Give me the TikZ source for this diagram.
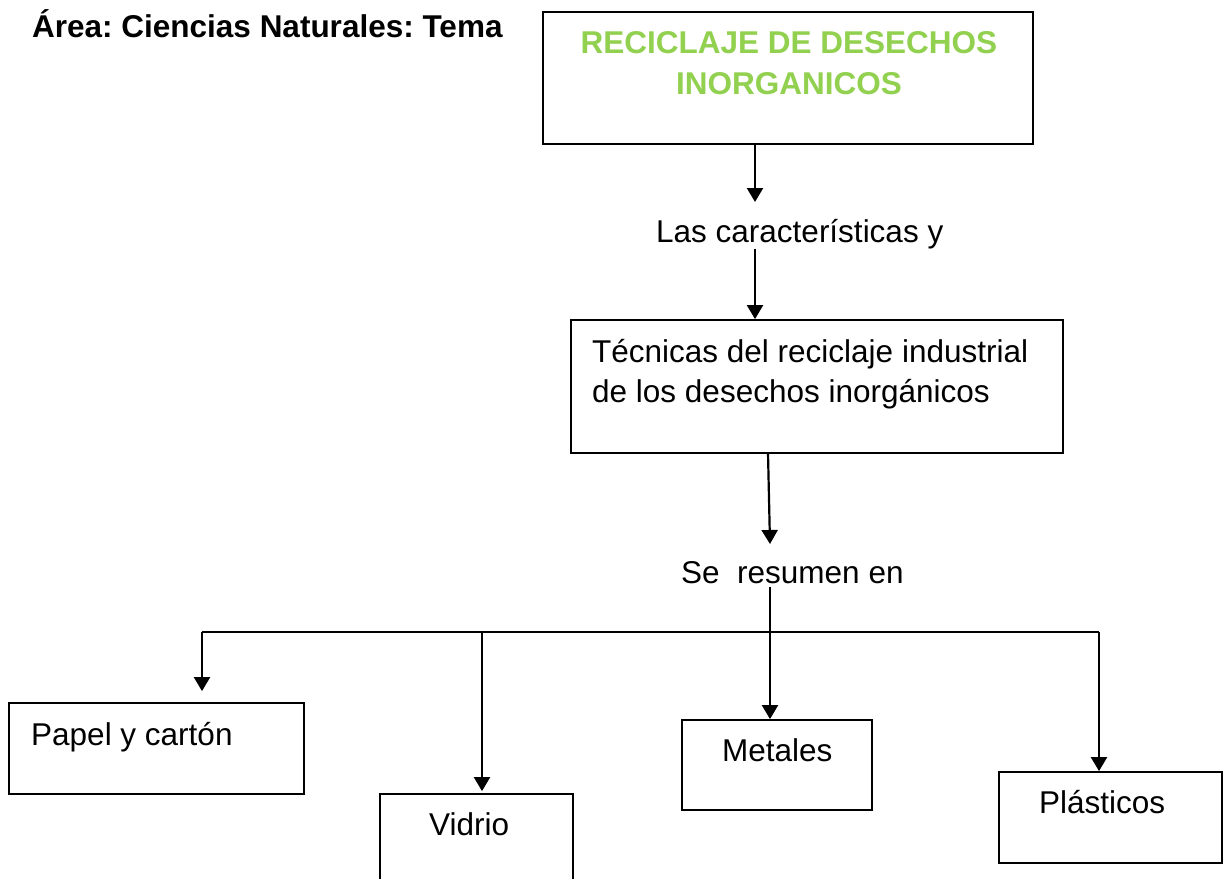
\documentclass[tikz,border=0pt]{standalone}
\usepackage{fontspec}
\setmainfont{Liberation Sans}
\usetikzlibrary{arrows.meta}
\definecolor{titlegreen}{RGB}{146,208,80}
\frenchspacing
\tikzset{
  box/.style={draw=black, line width=1.8pt, rectangle, inner sep=0pt},
  txt/.style={anchor=base west, inner sep=0pt, font=\fontsize{31.5}{38}\selectfont},
  gtxt/.style={anchor=base, inner sep=0pt, text=titlegreen, font=\fontsize{31.5}{38}\selectfont\bfseries},
  arr/.style={draw=black, line width=2.2pt, -{Triangle[length=14pt,width=16pt]}},
  plain/.style={draw=black, line width=1.8pt}
}
\begin{document}
\begin{tikzpicture}[x=1pt,y=-1pt]
\useasboundingbox (0,0) rectangle (1223,878);
\fill[white] (0,0) rectangle (1223,878);

% title
\node[txt, font=\fontsize{31.5}{38}\selectfont\bfseries] (title) at (32,37) {Área: Ciencias Naturales: Tema};

% top box
\node[box, minimum width=490pt, minimum height=132pt] (top) at (788,78) {};
\node[gtxt] (g1) at (789,53) {RECICLAJE DE DESECHOS};
\node[gtxt] (g2) at (789,94) {INORGANICOS};

% first label
\node[txt] (lab1) at (656,242) {Las características y};
\coordinate (t1) at (755,202);
\draw[arr] (top.south -| t1) -- (t1);

% technique box
\node[box, minimum width=492pt, minimum height=133pt] (tech) at (817,386.5) {};
\node[txt] (tl1) at (592,362) {Técnicas del reciclaje industrial};
\node[txt] (tl2) at (592,402) {de los desechos inorgánicos};
\draw[arr] (lab1.south -| t1) -- (tech.north -| t1);

% second label
\node[txt] (lab2) at (681,583) {Se~ resumen en};
\coordinate (t2a) at (768,453);
\coordinate (t2) at (770,544);
\draw[arr] (t2a) -- (t2);

% leaf boxes
\node[box, minimum width=295pt, minimum height=91pt] (papel) at (156.5,748.5) {};
\node[txt] (papelt) at (31,745) {Papel y cartón};
\node[box, minimum width=193pt, minimum height=100pt] (vidrio) at (476.5,844) {};
\node[txt] (vidriot) at (429,835) {Vidrio};
\node[box, minimum width=190pt, minimum height=90pt] (metales) at (777,765) {};
\node[txt] (metalest) at (722,761) {Metales};
\node[box, minimum width=223pt, minimum height=91pt] (plast) at (1110.5,817.5) {};
\node[txt] (plastt) at (1039,813) {Plásticos};

% bus
\coordinate (busL) at (202,632);
\coordinate (busV) at (482,632);
\coordinate (busR) at (1099,632);
\coordinate (m0) at (770,587);
\draw[plain] (busL) -- (busR);
\draw[arr, shorten >=11pt] (busL) -- (papel.north -| busL);
\draw[arr, shorten >=2pt] (busV) -- (vidrio.north -| busV);
\draw[arr] (m0) -- (metales.north -| m0);
\draw[arr] (busR) -- (plast.north -| busR);
\end{tikzpicture}
\end{document}
